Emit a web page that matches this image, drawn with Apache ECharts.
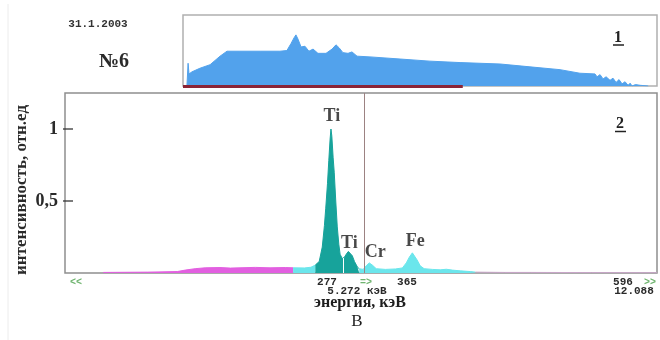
<!DOCTYPE html>
<html>
<head>
<meta charset="utf-8">
<script src="https://cdn.jsdelivr.net/npm/echarts@6/dist/echarts.min.js"></script>
<style>
  html, body { margin: 0; padding: 0; background: #ffffff; }
  #chart { width: 660px; height: 340px; }
</style>
</head>
<body>
<div id="chart"></div>
<script>
// Full survey spectrum (panel 1): energy, keV and relative counts
const surveyEnergy = [0.17, 0.22, 0.26, 0.39, 0.73, 1.17, 1.60, 1.90, 2.46, 3.33, 4.19, 4.49, 4.67, 4.80, 4.88, 4.97, 5.10, 5.27, 5.44, 5.62, 5.83, 6.18, 6.44, 6.61, 6.74, 6.91, 7.13, 7.30, 7.52, 8.08, 9.38, 10.67, 11.97, 13.70, 14.99, 16.29, 17.15, 17.80, 17.89, 18.02, 18.15, 18.28, 18.45, 18.58, 18.71, 18.84, 18.97, 19.10, 19.23, 19.32, 19.40, 19.55, 19.75, 20.10];
const surveyCounts = [0.00, 0.32, 0.17, 0.20, 0.25, 0.30, 0.42, 0.49, 0.49, 0.49, 0.49, 0.50, 0.60, 0.68, 0.72, 0.66, 0.55, 0.56, 0.49, 0.52, 0.46, 0.46, 0.52, 0.58, 0.54, 0.47, 0.46, 0.48, 0.42, 0.41, 0.38, 0.35, 0.33, 0.31, 0.27, 0.23, 0.18, 0.17, 0.13, 0.16, 0.10, 0.13, 0.08, 0.11, 0.05, 0.09, 0.03, 0.06, 0.01, 0.04, 0.00, 0.02, 0.01, 0.00];
const viewRangeEnd = 12.088; // keV, end of the zoomed window

// Zoomed spectrum (panel 2): energy, keV and intensity, rel. units
const spectrumEnergy = [-0.72, 0.30, 0.98, 1.16, 1.39, 1.62, 1.96, 2.20, 2.42, 2.77, 3.11, 3.46, 3.64, 3.90, 4.05, 4.15, 4.24, 4.31, 4.36, 4.39, 4.43, 4.46, 4.49, 4.51, 4.53, 4.56, 4.585, 4.62, 4.655, 4.69, 4.72, 4.77, 4.82, 4.86, 4.91, 4.95, 5.00, 5.05, 5.12, 5.16, 5.25, 5.32, 5.39, 5.46, 5.55, 5.76, 5.99, 6.15, 6.24, 6.31, 6.38, 6.42, 6.49, 6.56, 6.65, 6.84, 7.02, 7.16, 7.30, 7.48, 7.71, 7.83, 8.50, 9.10, 10.50, 12.00];
const spectrumIntensity = [0.004, 0.006, 0.010, 0.020, 0.030, 0.036, 0.038, 0.034, 0.036, 0.039, 0.036, 0.038, 0.036, 0.035, 0.040, 0.055, 0.080, 0.180, 0.330, 0.450, 0.620, 0.780, 0.930, 1.000, 0.950, 0.800, 0.700, 0.500, 0.320, 0.200, 0.130, 0.100, 0.110, 0.130, 0.150, 0.145, 0.120, 0.080, 0.040, 0.030, 0.025, 0.050, 0.070, 0.055, 0.030, 0.025, 0.028, 0.035, 0.070, 0.110, 0.140, 0.135, 0.090, 0.050, 0.030, 0.025, 0.022, 0.026, 0.020, 0.015, 0.010, 0.006, 0.004, 0.004, 0.003, 0.002];
// Colour windows along the energy axis (keV)
const windowEdges = [-0.72, 3.64, 4.15, 5.16, 7.83, 12.00];
// Element lines
const peakNames = ['Ti', 'Ti', 'Cr', 'Fe'];
const peakEnergy = [4.51, 4.91, 5.39, 6.38];
const roiMarker = 4.79;     // keV, boundary inside the Ti window
const cursorEnergy = 5.272; // keV
// Y ticks
const yTicks = [0.5, 1];
// Cursor readout
const channelLeft = '277', channelRight = '365', channelEnd = '596';

const windowColors = ['#e25fe0', '#6be6ec', '#17a39b', '#6be6ec', '#c9a6c9'];
const windowArea = [true, true, true, true, false];
const labelOffsets = [[1, -13], [1, -8], [6, -11], [3, -11]];
const E_MIN = -1.6, E_MAX = 12.0;

function interp(e) {
  for (let i = 1; i < spectrumEnergy.length; i++) {
    if (e <= spectrumEnergy[i]) {
      const t = (e - spectrumEnergy[i - 1]) / (spectrumEnergy[i] - spectrumEnergy[i - 1]);
      return spectrumIntensity[i - 1] + t * (spectrumIntensity[i] - spectrumIntensity[i - 1]);
    }
  }
  return 0;
}

const surveyData = surveyEnergy.map((e, i) => [e, surveyCounts[i]]);
const spectrumData = spectrumEnergy.map((e, i) => [e, spectrumIntensity[i]]);

const serif = '"Liberation Serif", "DejaVu Serif", serif';
const mono = '"Liberation Mono", "DejaVu Sans Mono", monospace';

const series = [];
series.push({
  type: 'line', xAxisIndex: 0, yAxisIndex: 0, data: surveyData,
  symbol: 'none', lineStyle: { color: '#52a2ec', width: 1 },
  areaStyle: { color: '#52a2ec', opacity: 1 },
  markLine: {
    silent: true, symbol: 'none', label: { show: false },
    lineStyle: { color: '#8b2436', width: 3, type: 'solid' },
    data: [[{ coord: [0, 0] }, { coord: [viewRangeEnd, 0] }]]
  }
});

for (let s = 0; s < windowEdges.length - 1; s++) {
  const a = windowEdges[s], b = windowEdges[s + 1];
  const pts = spectrumData.filter(p => p[0] >= a && p[0] <= b);
  const item = {
    type: 'line', xAxisIndex: 1, yAxisIndex: 1, data: pts, symbol: 'none',
    lineStyle: { color: windowColors[s], width: 1 },
    z: 3
  };
  if (windowArea[s]) item.areaStyle = { color: windowColors[s], opacity: 1 };
  if (cursorEnergy >= a && cursorEnergy <= b) {
    item.markLine = {
      silent: true, symbol: 'none', label: { show: false },
      lineStyle: { color: '#9c8282', width: 1, type: 'solid' },
      data: [{ xAxis: cursorEnergy }]
    };
  }
  if (roiMarker >= a && roiMarker <= b) {
    item.markLine = {
      silent: true, symbol: 'none', label: { show: false },
      lineStyle: { color: '#ffffff', width: 1, type: 'solid' },
      data: [[{ coord: [roiMarker, 0] }, { coord: [roiMarker, interp(roiMarker)] }]]
    };
  }
  series.push(item);
}

series.push({
  type: 'scatter', xAxisIndex: 1, yAxisIndex: 1, symbolSize: 0, z: 5,
  data: peakEnergy.map((e, i) => ({
    value: [e, interp(e)],
    label: { offset: labelOffsets[i] }
  })),
  label: {
    show: true, position: 'inside',
    formatter: p => peakNames[p.dataIndex],
    fontFamily: serif, fontWeight: 'bold', fontSize: 18, color: '#1a1a1a'
  }
});

// Short tick marks on the intensity axis
series.push({
  type: 'scatter', xAxisIndex: 1, yAxisIndex: 1, z: 6, silent: true, clip: false,
  symbol: 'rect', symbolSize: [10, 1.6], symbolOffset: [3, 0],
  itemStyle: { color: '#333' },
  data: yTicks.map(v => [E_MIN, v])
});

function txt(x, y, text, style) {
  return {
    type: 'text', x: x, y: y, silent: true,
    style: Object.assign({ text: text, align: 'center', verticalAlign: 'middle', fill: '#222' }, style)
  };
}
function rule(x1, x2, y, color, w) {
  return { type: 'line', silent: true, shape: { x1: x1, y1: y, x2: x2, y2: y }, style: { stroke: color, lineWidth: w } };
}

const chart = echarts.init(document.getElementById('chart'), null, { renderer: 'canvas' });
chart.setOption({
  animation: false,
  backgroundColor: '#ffffff',
  grid: [
    { left: 183, top: 15, width: 474, height: 71, show: true, borderColor: '#b0b0b0', borderWidth: 1.5, backgroundColor: '#ffffff' },
    { left: 65, top: 93, width: 592, height: 180, show: true, borderColor: '#8f8f8f', borderWidth: 1.5, backgroundColor: '#ffffff' }
  ],
  xAxis: [
    { type: 'value', gridIndex: 0, min: 0, max: 20.48, show: false },
    { type: 'value', gridIndex: 1, min: E_MIN, max: E_MAX, show: false }
  ],
  yAxis: [
    { type: 'value', gridIndex: 0, min: 0, max: 1, show: false },
    {
      type: 'value', gridIndex: 1, min: 0, max: 1.25, interval: 0.5,
      axisLine: { show: false },
      splitLine: { show: false },
      axisTick: { show: false },
      axisLabel: {
        margin: 7, fontFamily: serif, fontWeight: 'bold', fontSize: 18, color: '#2a2a2a',
        showMaxLabel: false,
        formatter: v => (yTicks.indexOf(v) >= 0 ? String(v).replace('.', ',') : '')
      }
    }
  ],
  series: series,
  graphic: [
    { type: 'line', silent: true, shape: { x1: 8, y1: 4, x2: 8, y2: 340 }, style: { stroke: '#ececec', lineWidth: 1 } },
    txt(98, 24, '31.1.2003', { font: 'bold 11px ' + mono, fill: '#333' }),
    txt(114, 62, '№6', { font: 'bold 20px ' + serif, fill: '#2a2a2a' }),
    txt(618, 38, '1', { font: 'bold 16px ' + serif, fill: '#222' }),
    rule(613, 624, 45, '#222', 1.5),
    txt(620, 124, '2', { font: 'bold 16px ' + serif, fill: '#222' }),
    rule(615, 626, 131.5, '#222', 1.5),
    {
      type: 'text', silent: true, x: 21.5, y: 190, rotation: Math.PI / 2,
      style: { text: 'интенсивность, отн.ед', align: 'center', verticalAlign: 'middle',
        font: 'bold 17px ' + serif, fill: '#2a2a2a' }
    },
    txt(76, 282, '<<', { font: 'bold 10px ' + mono, fill: '#6fb46f' }),
    txt(327, 282, channelLeft, { font: 'bold 11px ' + mono, fill: '#2a2a2a' }),
    txt(366, 282, '=>', { font: 'bold 10px ' + mono, fill: '#6fb46f' }),
    txt(407, 282, channelRight, { font: 'bold 11px ' + mono, fill: '#2a2a2a' }),
    txt(623, 282, channelEnd, { font: 'bold 11px ' + mono, fill: '#2a2a2a' }),
    txt(650, 282, '>>', { font: 'bold 10px ' + mono, fill: '#6fb46f' }),
    txt(357, 291, cursorEnergy.toFixed(3) + ' кэВ', { font: 'bold 11px ' + mono, fill: '#2a2a2a' }),
    txt(634, 291, viewRangeEnd.toFixed(3), { font: 'bold 11px ' + mono, fill: '#2a2a2a' }),
    txt(360, 303, 'энергия, кэВ', { font: 'bold 16px ' + serif, fill: '#1e1e1e' }),
    txt(357, 322, 'В', { font: '17px ' + serif, fill: '#1e1e1e' })
  ]
});
</script>
</body>
</html>
